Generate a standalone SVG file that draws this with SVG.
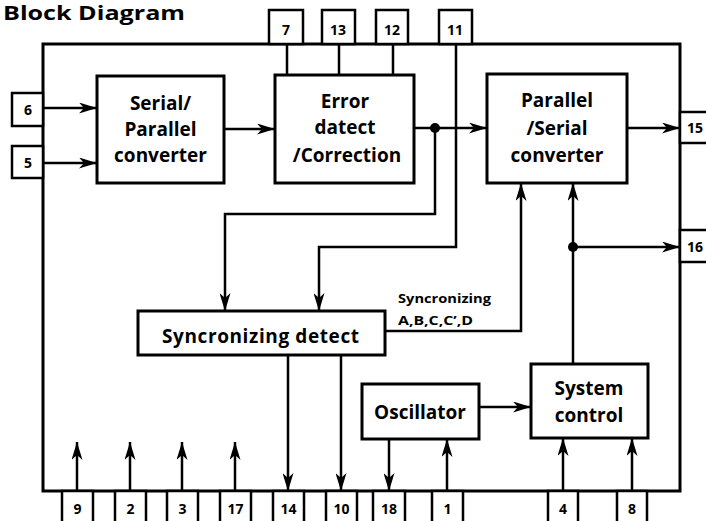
<svg xmlns="http://www.w3.org/2000/svg" width="706" height="521" viewBox="0 0 706 521">
<defs>
<style>
.box{fill:#fff;stroke:#000;stroke-width:3}
.pin{fill:#fff;stroke:#000;stroke-width:2.5}
.ln{fill:none;stroke:#000;stroke-width:2.5}
.t{font-family:"Open Sans","DejaVu Sans",sans-serif;font-weight:700;fill:#000;text-anchor:middle}
.big{font-size:19px}
.pn{font-size:14px}
.sm{font-size:12px;text-anchor:start}
</style>
<marker id="ah" viewBox="0 0 18 11" refX="18" refY="5.5" markerWidth="18" markerHeight="11" markerUnits="userSpaceOnUse" orient="auto">
<path d="M0,0 L18,5.5 L0,11 L5,5.5 z" fill="#000"/>
</marker>
</defs>
<rect width="706" height="521" fill="#fff"/>
<text class="t" x="3" y="20" style="font-size:19px;text-anchor:start" textLength="182" lengthAdjust="spacingAndGlyphs">Block Diagram</text>
<g id="outer"><rect x="43" y="44" width="637" height="447" fill="none" stroke="#000" stroke-width="3"/></g>
<g id="pins">
<g id="pin6"><rect class="pin" x="12" y="93" width="31" height="33"/><text class="t pn" x="28" y="115">6</text></g>
<g id="pin5"><rect class="pin" x="12" y="146" width="31" height="32"/><text class="t pn" x="28" y="168">5</text></g>
<g id="pin7"><rect class="pin" x="269" y="10" width="34" height="34"/><text class="t pn" x="286" y="35">7</text></g>
<g id="pin13"><rect class="pin" x="322" y="10" width="33" height="34"/><text class="t pn" x="338" y="35">13</text></g>
<g id="pin12"><rect class="pin" x="376" y="10" width="32" height="34"/><text class="t pn" x="392" y="35">12</text></g>
<g id="pin11"><rect class="pin" x="439" y="10" width="33" height="34"/><text class="t pn" x="455" y="35">11</text></g>
<g id="pin15"><rect class="pin" x="680" y="112" width="40" height="31"/><text class="t pn" x="695" y="133">15</text></g>
<g id="pin16"><rect class="pin" x="680" y="230" width="40" height="32"/><text class="t pn" x="695" y="252">16</text></g>
<g id="pin9"><rect class="pin" x="62" y="491" width="31" height="40"/><text class="t pn" x="77.5" y="514">9</text></g>
<g id="pin2"><rect class="pin" x="115" y="491" width="31" height="40"/><text class="t pn" x="130.5" y="514">2</text></g>
<g id="pin3"><rect class="pin" x="167" y="491" width="31" height="40"/><text class="t pn" x="182.5" y="514">3</text></g>
<g id="pin17"><rect class="pin" x="220" y="491" width="31" height="40"/><text class="t pn" x="235.5" y="514">17</text></g>
<g id="pin14"><rect class="pin" x="273" y="491" width="31" height="40"/><text class="t pn" x="288.5" y="514">14</text></g>
<g id="pin10"><rect class="pin" x="326" y="491" width="31" height="40"/><text class="t pn" x="341.5" y="514">10</text></g>
<g id="pin18"><rect class="pin" x="373" y="491" width="32" height="40"/><text class="t pn" x="389" y="514">18</text></g>
<g id="pin1"><rect class="pin" x="432" y="491" width="31" height="40"/><text class="t pn" x="447.5" y="514">1</text></g>
<g id="pin4"><rect class="pin" x="548" y="491" width="30" height="40"/><text class="t pn" x="563" y="514">4</text></g>
<g id="pin8"><rect class="pin" x="617" y="491" width="30" height="40"/><text class="t pn" x="632" y="514">8</text></g>
</g>
<g id="sp"><rect class="box" x="97" y="76" width="127" height="107"/>
<text class="t big" x="160.5" y="110">Serial/</text><text class="t big" x="160.5" y="136">Parallel</text><text class="t big" x="160.5" y="162">converter</text></g>
<g id="err"><rect class="box" x="275" y="75" width="139" height="108"/>
<text class="t big" x="345" y="108">Error</text><text class="t big" x="345" y="134">datect</text><text class="t big" x="347" y="162">/Correction</text></g>
<g id="ps"><rect class="box" x="487" y="74" width="140" height="109"/>
<text class="t big" x="557" y="107">Parallel</text><text class="t big" x="557" y="135">/Serial</text><text class="t big" x="557" y="162">converter</text></g>
<g id="sync"><rect class="box" x="138" y="311" width="247" height="44"/>
<text class="t big" x="260.5" y="343" textLength="197" lengthAdjust="spacing">Syncronizing  detect</text></g>
<g id="osc"><rect class="box" x="362" y="384" width="117" height="55"/>
<text class="t big" x="420" y="419">Oscillator</text></g>
<g id="sys"><rect class="box" x="531" y="364" width="117" height="74"/>
<text class="t big" x="589" y="395">System</text><text class="t big" x="589" y="422">control</text></g>
<g id="connectors">
<path class="ln" d="M43,108 H97" marker-end="url(#ah)"/>
<path class="ln" d="M43,163 H97" marker-end="url(#ah)"/>
<path class="ln" d="M224,129 H275" marker-end="url(#ah)"/>
<path class="ln" d="M414,128 H487" marker-end="url(#ah)"/>
<path class="ln" d="M627,128 H680" marker-end="url(#ah)"/>
<path class="ln" d="M287,44 V75 M339,44 V75 M393,44 V75"/>
<path class="ln" d="M456,44 V247 H319 V311" marker-end="url(#ah)"/>
<path class="ln" d="M435,128 V214 H225 V311" marker-end="url(#ah)"/>
<path class="ln" d="M385,331 H521 V183" marker-end="url(#ah)"/>
<path class="ln" d="M573,364 V183" marker-end="url(#ah)"/>
<path class="ln" d="M573,247 H680" marker-end="url(#ah)"/>
<path class="ln" d="M479,407 H531" marker-end="url(#ah)"/>
<path class="ln" d="M288,355 V491" marker-end="url(#ah)"/>
<path class="ln" d="M341,355 V491" marker-end="url(#ah)"/>
<path class="ln" d="M389,439 V491" marker-end="url(#ah)"/>
<path class="ln" d="M447,491 V439" marker-end="url(#ah)"/>
<path class="ln" d="M563,491 V438" marker-end="url(#ah)"/>
<path class="ln" d="M632,491 V438" marker-end="url(#ah)"/>
<path class="ln" d="M77,491 V442" marker-end="url(#ah)"/>
<path class="ln" d="M130,491 V442" marker-end="url(#ah)"/>
<path class="ln" d="M182,491 V442" marker-end="url(#ah)"/>
<path class="ln" d="M235,491 V442" marker-end="url(#ah)"/>
<circle cx="435" cy="128" r="5"/>
<circle cx="573" cy="247" r="5"/>
<text class="t sm" x="398" y="303" textLength="93" lengthAdjust="spacingAndGlyphs">Syncronizing</text>
<text class="t sm" x="398" y="325" textLength="75" lengthAdjust="spacingAndGlyphs">A,B,C,C’,D</text>
</g>
</svg>
